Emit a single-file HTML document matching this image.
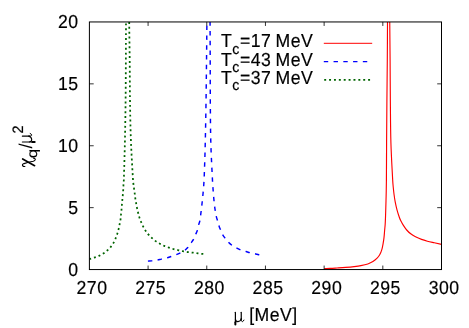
<!DOCTYPE html>
<html><head><meta charset="utf-8"><title>plot</title>
<style>
html,body{margin:0;padding:0;background:#fff;}
body{width:469px;height:328px;overflow:hidden;}
svg{display:block;will-change:transform;}
text{font-family:"Liberation Sans",sans-serif;font-size:18.0px;fill:#000;text-rendering:geometricPrecision;stroke:#000;stroke-width:0.18px;letter-spacing:0.5px;word-spacing:-1.2px;}
.sym{font-family:"Liberation Serif",serif;}
</style></head><body>
<svg width="469" height="328" viewBox="0 0 469 328">
<rect width="469" height="328" fill="#fff"/>
<defs>
<clipPath id="cp"><rect x="89.4" y="21.95" width="352.1" height="247.60000000000002"/></clipPath></defs>
<g clip-path="url(#cp)" fill="none" stroke-linejoin="round">
<path transform="translate(0 0.45)" d="M324.30 268.05C326.27 268.00 328.23 267.98 330.20 267.90C332.50 267.80 334.80 267.64 337.10 267.50C339.93 267.33 342.77 267.17 345.60 266.95C348.44 266.72 351.27 266.47 354.10 266.15C356.37 265.89 358.66 265.63 360.90 265.20C363.22 264.75 365.57 264.26 367.80 263.50C369.57 262.90 371.32 262.09 372.90 261.10C374.42 260.15 375.84 258.96 377.10 257.70C378.10 256.70 379.01 255.53 379.70 254.30C380.56 252.77 381.24 251.09 381.75 249.40C382.37 247.35 382.71 245.21 383.10 243.10C383.46 241.14 383.77 239.17 384.00 237.20C384.27 234.92 384.40 232.63 384.60 230.35C384.80 228.07 385.05 225.79 385.20 223.50C385.35 221.24 385.41 218.97 385.50 216.70C385.58 214.70 385.64 212.70 385.70 210.70C385.80 207.30 385.91 203.90 386.00 200.50C386.09 197.07 386.18 193.63 386.25 190.20C386.32 186.80 386.38 183.40 386.40 180.00C386.49 167.33 386.52 154.67 386.60 142.00C386.69 128.00 386.78 114.00 386.90 100.00C387.01 86.67 387.20 73.33 387.30 60.00C387.40 47.33 387.44 34.67 387.50 22.00C387.52 18.00 387.53 14.00 387.55 10.00" stroke="#ff0000" stroke-width="1.15"/>
<path transform="translate(-0.2 0.4)" d="M389.90 10.00C389.92 14.00 389.92 18.00 389.95 22.00C390.05 34.67 390.20 47.33 390.30 60.00C390.40 73.33 390.42 86.67 390.55 100.00C390.69 114.00 390.69 128.01 391.10 142.00C391.47 154.67 392.24 167.34 392.90 180.00C393.01 182.14 393.20 184.27 393.40 186.40C393.65 188.97 393.91 191.54 394.25 194.10C394.59 196.64 394.96 199.18 395.45 201.70C395.95 204.28 396.52 206.86 397.20 209.40C397.90 211.99 398.72 214.56 399.60 217.10C399.99 218.21 400.47 219.30 401.00 220.35C401.80 221.93 402.65 223.51 403.60 225.00C404.61 226.59 405.67 228.18 406.90 229.60C408.10 230.98 409.45 232.28 410.90 233.40C412.39 234.55 414.03 235.53 415.70 236.40C417.63 237.40 419.66 238.25 421.70 239.00C423.63 239.71 425.61 240.27 427.60 240.80C429.88 241.41 432.20 241.88 434.50 242.40C436.90 242.94 439.30 243.47 441.70 244.00" stroke="#ff0000" stroke-width="1.15"/>
<path transform="translate(0 0.45)" d="M147.80 260.70C149.10 260.60 150.40 260.54 151.70 260.40C153.54 260.20 155.38 260.02 157.20 259.70C158.62 259.45 160.00 259.02 161.40 258.70C163.23 258.28 165.09 257.99 166.90 257.50C168.29 257.12 169.63 256.57 171.00 256.10C172.63 255.54 174.29 255.02 175.90 254.40C177.25 253.88 178.59 253.32 179.90 252.70C181.33 252.02 182.81 251.40 184.10 250.50C185.35 249.63 186.50 248.55 187.50 247.40C188.73 245.98 189.71 244.34 190.80 242.80C191.71 241.51 192.74 240.28 193.50 238.90C194.34 237.38 194.91 235.71 195.60 234.10C196.18 232.74 196.86 231.41 197.30 230.00C197.86 228.18 198.11 226.25 198.60 224.40C198.94 223.12 199.54 221.90 199.80 220.60C200.29 218.10 200.53 215.54 200.85 213.00C201.26 209.77 201.64 206.54 202.00 203.30C202.36 200.00 202.70 196.70 203.00 193.40C203.30 190.20 203.59 187.00 203.80 183.80C204.02 180.54 204.18 177.27 204.30 174.00C204.65 164.34 204.97 154.67 205.20 145.00C205.52 131.67 205.76 118.33 205.97 105.00C206.19 90.67 206.34 76.33 206.50 62.00C206.64 49.67 206.77 37.33 206.86 25.00C206.90 20.00 206.89 15.00 206.90 10.00" stroke="#0000ff" stroke-width="1.45" stroke-dasharray="4.4 5.36" stroke-dashoffset="-0.1"/>
<path transform="translate(0 0.25)" d="M210.00 10.00C210.02 14.00 210.04 18.00 210.06 22.00C210.11 35.33 210.16 48.67 210.20 62.00C210.24 74.67 210.21 87.33 210.30 100.00C210.41 114.00 210.42 128.01 210.80 142.00C211.15 154.87 211.88 167.74 212.50 180.60C212.65 183.60 212.88 186.60 213.10 189.60C213.34 192.87 213.58 196.14 213.90 199.40C214.23 202.67 214.58 205.95 215.05 209.20C215.41 211.71 215.84 214.23 216.40 216.70C216.69 217.99 217.23 219.23 217.60 220.50C218.13 222.29 218.52 224.13 219.10 225.90C219.52 227.19 220.07 228.45 220.60 229.70C221.33 231.41 221.98 233.19 222.90 234.80C223.65 236.12 224.67 237.29 225.60 238.50C226.60 239.79 227.56 241.14 228.70 242.30C229.82 243.44 231.08 244.49 232.40 245.40C233.78 246.36 235.30 247.13 236.80 247.90C238.14 248.59 239.49 249.28 240.90 249.80C242.59 250.42 244.37 250.80 246.10 251.30C247.50 251.70 248.89 252.15 250.30 252.50C252.12 252.95 253.97 253.27 255.80 253.70C257.11 254.01 258.40 254.38 259.70 254.70C260.46 254.88 261.23 255.03 262.00 255.20" stroke="#0000ff" stroke-width="1.45" stroke-dasharray="4.4 5.36" stroke-dashoffset="-1.25"/>
<path d="M89.20 259.10C91.08 258.53 92.99 258.03 94.85 257.40C96.41 256.87 97.97 256.30 99.46 255.60C100.95 254.90 102.42 254.11 103.80 253.20C105.15 252.31 106.44 251.29 107.64 250.20C108.83 249.11 109.97 247.92 110.97 246.65C111.97 245.38 112.86 244.01 113.65 242.60C114.44 241.19 115.08 239.69 115.70 238.20C116.32 236.69 116.88 235.15 117.37 233.60C117.86 232.05 118.26 230.48 118.64 228.90C119.03 227.28 119.34 225.64 119.67 224.00C119.98 222.44 120.34 220.88 120.56 219.30C120.78 217.71 120.84 216.10 121.00 214.50C121.16 212.90 121.35 211.30 121.50 209.70C121.65 208.10 121.77 206.50 121.90 204.90C122.03 203.30 122.15 201.70 122.30 200.10C122.45 198.43 122.65 196.77 122.80 195.10C122.95 193.47 123.09 191.83 123.20 190.20C123.31 188.60 123.35 187.00 123.45 185.40C123.55 183.80 123.75 182.20 123.80 180.60C124.25 167.07 124.65 153.54 124.95 140.00C125.25 126.67 125.45 113.33 125.60 100.00C125.75 86.67 125.78 73.33 125.85 60.00C125.91 47.33 125.95 34.67 126.00 22.00C126.02 18.00 126.03 14.00 126.05 10.00" stroke="#006400" stroke-width="1.75" stroke-dasharray="1.95 2.93" stroke-dashoffset="-0.05"/>
<path d="M129.15 10.00C129.17 14.00 129.16 18.00 129.20 22.00C129.34 34.67 129.57 47.33 129.70 60.00C129.84 73.33 129.80 86.67 130.00 100.00C130.20 113.33 130.40 126.67 130.90 140.00C131.40 153.34 132.24 166.67 133.00 180.00C133.07 181.27 133.25 182.54 133.40 183.80C133.60 185.44 133.83 187.07 134.05 188.70C134.26 190.27 134.50 191.83 134.70 193.40C134.91 195.03 135.07 196.67 135.30 198.30C135.53 199.94 135.81 201.57 136.10 203.20C136.38 204.77 136.67 206.34 137.00 207.90C137.34 209.51 137.70 211.11 138.10 212.70C138.50 214.28 138.90 215.85 139.40 217.40C139.90 218.95 140.48 220.49 141.10 222.00C141.74 223.56 142.43 225.10 143.20 226.60C143.93 228.00 144.73 229.38 145.60 230.70C146.49 232.05 147.44 233.38 148.50 234.60C149.54 235.81 150.72 236.92 151.90 238.00C153.09 239.09 154.29 240.17 155.60 241.10C156.96 242.07 158.43 242.89 159.90 243.70C161.33 244.49 162.80 245.25 164.30 245.90C165.80 246.55 167.35 247.07 168.90 247.60C170.49 248.14 172.08 248.66 173.70 249.10C175.35 249.56 177.03 249.92 178.70 250.30C180.23 250.65 181.76 251.00 183.30 251.30C184.99 251.63 186.69 251.96 188.40 252.20C189.99 252.43 191.60 252.50 193.20 252.70C194.77 252.90 196.33 253.21 197.90 253.40C199.56 253.61 201.23 253.74 202.90 253.90C203.90 253.99 204.90 254.07 205.90 254.15" stroke="#006400" stroke-width="1.75" stroke-dasharray="1.95 2.93" stroke-dashoffset="2.7"/>
</g>
<g fill="none" stroke="#000" stroke-width="1">
<rect x="89.4" y="21.95" width="352.1" height="247.60000000000002"/>
<g stroke-width="0.8"><path d="M148.08 269.55V265.55 M148.08 21.95V25.95"/><path d="M206.77 269.55V265.55 M206.77 21.95V25.95"/><path d="M265.45 269.55V265.55 M265.45 21.95V25.95"/><path d="M324.13 269.55V265.55 M324.13 21.95V25.95"/><path d="M382.82 269.55V265.55 M382.82 21.95V25.95"/><path d="M89.40 207.65H93.70 M441.50 207.65H437.20"/><path d="M89.40 145.75H93.70 M441.50 145.75H437.20"/><path d="M89.40 83.85H93.70 M441.50 83.85H437.20"/></g>
</g>
<g><text transform="translate(92.00 293.7) scale(0.9800 1.0450)" text-anchor="middle">270</text><text transform="translate(150.68 293.7) scale(0.9800 1.0450)" text-anchor="middle">275</text><text transform="translate(209.37 293.7) scale(0.9800 1.0450)" text-anchor="middle">280</text><text transform="translate(268.05 293.7) scale(0.9800 1.0450)" text-anchor="middle">285</text><text transform="translate(326.73 293.7) scale(0.9800 1.0450)" text-anchor="middle">290</text><text transform="translate(385.42 293.7) scale(0.9800 1.0450)" text-anchor="middle">295</text><text transform="translate(444.10 293.7) scale(0.9800 1.0450)" text-anchor="middle">300</text></g>
<g><text transform="translate(78.55 276.05) scale(0.9800 1.0450)" text-anchor="end">0</text><text transform="translate(78.55 214.15) scale(0.9800 1.0450)" text-anchor="end">5</text><text transform="translate(78.55 152.25) scale(0.9800 1.0450)" text-anchor="end">10</text><text transform="translate(78.55 90.35) scale(0.9800 1.0450)" text-anchor="end">15</text><text transform="translate(78.55 28.45) scale(0.9800 1.0450)" text-anchor="end">20</text></g>
<g><text transform="translate(221.1 47.35) scale(0.9800 1.0450)">T<tspan dy="6.0" font-size="14.40">c</tspan><tspan dy="-6.0">=17 MeV</tspan></text><text transform="translate(221.1 65.75) scale(0.9800 1.0450)">T<tspan dy="6.0" font-size="14.40">c</tspan><tspan dy="-6.0">=43 MeV</tspan></text><text transform="translate(221.1 83.95) scale(0.9800 1.0450)">T<tspan dy="6.0" font-size="14.40">c</tspan><tspan dy="-6.0">=37 MeV</tspan></text></g>
<g fill="none">
<path d="M323.8 43.3H372.2" stroke="#ff0000" stroke-width="1"/>
<path d="M323.8 61.6H372.2" stroke="#0000ff" stroke-width="1.45" stroke-dasharray="4.4 5.36"/>
<path d="M324.2 79.8H372.2" stroke="#006400" stroke-width="1.75" stroke-dasharray="1.95 2.93"/>
</g>
<g transform="translate(234.4 321.6)" fill="none" stroke="#000" stroke-linecap="round" stroke-linejoin="round"><path d="M1.0 -9.3V2.9" stroke-width="1.2"/><path d="M1.0 0.6V3.0" stroke-width="1.9"/><path d="M6.85 -9.3V-2.4" stroke-width="1.2"/><path d="M1.0 -2.4C1.3 -0.3 2.5 0.1 3.6 0.0C5.0 -0.1 6.3 -1.2 6.85 -3.0" stroke-width="1.1"/><path d="M6.85 -2.6C6.8 -0.4 7.5 0.2 8.2 0.0C8.8 -0.2 9.2 -0.8 9.5 -1.5" stroke-width="1.0"/></g>
<text transform="translate(249.2 321.1) scale(0.98 1.045)">[MeV]</text>
<g transform="translate(31.2 167.0) rotate(-90)"><text transform="translate(8.80 6.00) scale(1.170 0.980)" style="font-size:14.40px;stroke-width:0.15px;letter-spacing:0">q</text><text transform="translate(18.50 0.60) scale(1.020 1.030)" style="font-size:18.00px;stroke-width:0.00px;letter-spacing:0">/</text><text transform="translate(33.60 -8.30) scale(1.000 1.045)" style="font-size:14.40px;stroke-width:0.20px;letter-spacing:0">2</text></g><g transform="translate(31.7 143.0) rotate(-90)" fill="none" stroke="#000" stroke-linecap="round" stroke-linejoin="round"><path d="M1.0 -9.3V2.9" stroke-width="1.2"/><path d="M1.0 0.6V3.0" stroke-width="1.9"/><path d="M6.85 -9.3V-2.4" stroke-width="1.2"/><path d="M1.0 -2.4C1.3 -0.3 2.5 0.1 3.6 0.0C5.0 -0.1 6.3 -1.2 6.85 -3.0" stroke-width="1.1"/><path d="M6.85 -2.6C6.8 -0.4 7.5 0.2 8.2 0.0C8.8 -0.2 9.2 -0.8 9.5 -1.5" stroke-width="1.0"/></g><g fill="none" stroke="#000" stroke-linecap="round" stroke-linejoin="round"><path d="M22.7 158.9L34.6 165.7" stroke-width="1.7"/><path d="M33.4 158.2C34.6 158.0 35.6 159.0 35.2 159.9C34.8 160.8 34.2 161.0 33.3 161.3L28.4 162.3L24.0 163.6C22.8 164.0 22.1 164.8 22.6 165.6C23.1 166.4 24.0 166.6 24.9 166.5" stroke-width="1.1"/></g>
</svg>
</body></html>
